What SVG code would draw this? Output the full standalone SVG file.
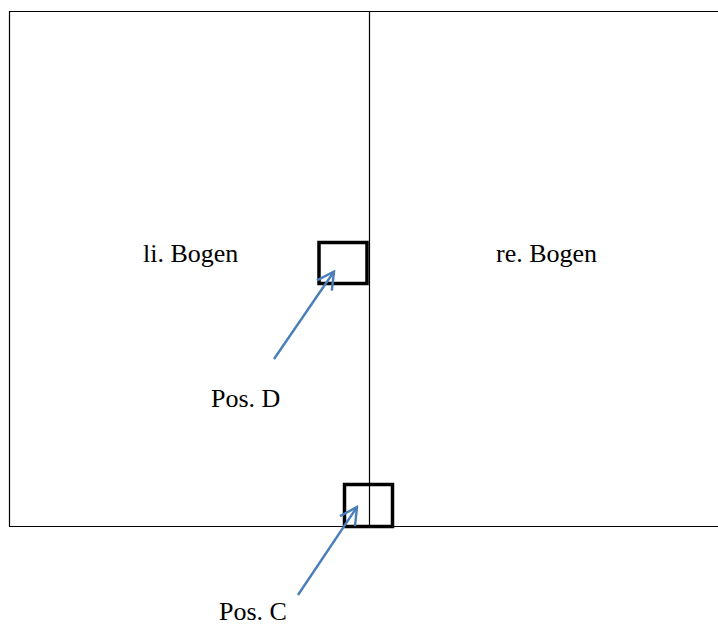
<svg xmlns="http://www.w3.org/2000/svg" width="718" height="625" viewBox="0 0 718 625">
<defs>
<style>
.frame{fill:none;stroke:#000;stroke-width:1.2}
.box{fill:none;stroke:#000;stroke-width:3.5}
.arrow{fill:none;stroke:#4A7EBB;stroke-width:2.4}
.lbl{font-family:"Liberation Serif","Times New Roman",serif;font-size:26px;fill:#000}
</style>
<marker id="ah" viewBox="0 0 20 20" markerWidth="20" markerHeight="20" markerUnits="userSpaceOnUse" refX="18" refY="10" orient="auto">
<path d="M1,1 L18,10 L1,19" fill="none" stroke="#4A7EBB" stroke-width="2.4"/>
</marker>
</defs>
<rect width="718" height="625" fill="#fff"/>
<g id="frame">
<path class="frame" d="M720,11.5 H9.5 V526.5 H720"/>
<line class="frame" x1="369.5" y1="11" x2="369.5" y2="527"/>
</g>
<g id="left-arc"><text class="lbl" x="143" y="262">li. Bogen</text></g>
<g id="right-arc"><text class="lbl" x="496" y="262">re. Bogen</text></g>
<g id="pos-d-box"><rect class="box" x="319" y="242.5" width="48" height="41"/></g>
<g id="pos-c-box"><rect class="box" x="344.5" y="484.5" width="48" height="42"/></g>
<g id="pos-d"><text class="lbl" x="211" y="407">Pos. D</text></g>
<g id="pos-c"><text class="lbl" x="219" y="620">Pos. C</text></g>
<g id="connectors">
<line class="arrow" x1="274" y1="359" x2="334" y2="271.5" marker-end="url(#ah)"/>
<line class="arrow" x1="298" y1="595" x2="357" y2="507" marker-end="url(#ah)"/>
</g>
</svg>
